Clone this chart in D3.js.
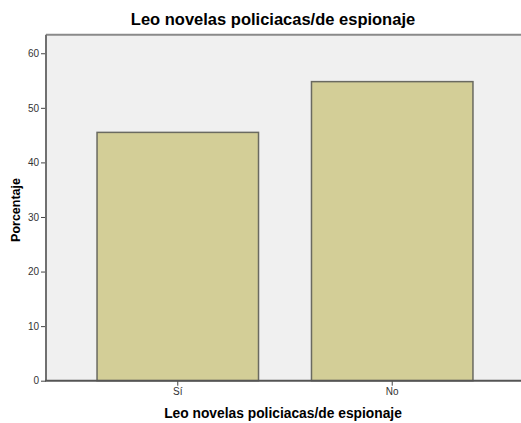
<!DOCTYPE html>
<html lang="es">
<head>
<meta charset="UTF-8">
<title>Leo novelas policiacas/de espionaje</title>
<script src="https://d3js.org/d3.v7.min.js"></script>
<style>
    body{ margin:0; background:#fff; font-family:"Liberation Sans", Arial, sans-serif; }
    svg{ display:block; }
</style>
</head>
<body>
<div id="chart"></div>
<script>
    // data
    var categories = ["Sí", "No"];
    var percentages = [45.5, 54.8];
    var yTicks = [0, 10, 20, 30, 40, 50, 60];

    var width = 521, height = 423;
    var plot = {left:46, right:524, top:34.7, bottom:380.7};

    var svg = d3.select("#chart").append("svg")
        .attr("width", width)
        .attr("height", height);

    var x = d3.scaleBand()
        .domain(categories)
        .range([plot.left, plot.right])
        .paddingInner(0.247)
        .paddingOuter(0.238);

    var y = d3.scaleLinear()
        .domain([0, 63.4])
        .range([plot.bottom, plot.top]);

    // plot background
    svg.append("rect")
        .attr("x", plot.left)
        .attr("y", plot.top)
        .attr("width", plot.right - plot.left)
        .attr("height", plot.bottom - plot.top)
        .attr("fill", "#f0f0f0");

    // top frame line
    svg.append("line")
        .attr("x1", plot.left).attr("x2", plot.right)
        .attr("y1", plot.top).attr("y2", plot.top)
        .attr("stroke", "#8a8a8a")
        .attr("stroke-width", 2);

    // bars
    svg.selectAll("rect.bar")
        .data(categories)
        .join("rect")
        .attr("class", "bar")
        .attr("x", function(d){ return x(d); })
        .attr("y", function(d, i){ return y(percentages[i]); })
        .attr("width", x.bandwidth())
        .attr("height", function(d, i){ return y(0) - y(percentages[i]); })
        .attr("fill", "#d3ce97")
        .attr("stroke", "#6a6a60")
        .attr("stroke-width", 1.5);

    // y axis
    var yAxis = svg.append("g")
        .attr("transform", "translate(" + plot.left + ",0)")
        .call(d3.axisLeft(y).tickValues(yTicks).tickSize(5).tickPadding(2));
    yAxis.select(".domain").remove();
    yAxis.append("line")
        .attr("x1", 0).attr("x2", 0)
        .attr("y1", plot.top).attr("y2", plot.bottom)
        .attr("stroke", "#707070")
        .attr("stroke-width", 2);
    yAxis.selectAll(".tick line").attr("stroke", "#444");
    yAxis.selectAll(".tick text")
        .attr("fill", "#333")
        .style("font-size", "10px")
        .style("font-family", "Liberation Sans, Arial, sans-serif");

    // x axis
    var xAxis = svg.append("g")
        .attr("transform", "translate(0," + plot.bottom + ")")
        .call(d3.axisBottom(x).tickSize(5).tickPadding(2));
    xAxis.select(".domain").remove();
    xAxis.append("line")
        .attr("x1", plot.left - 1).attr("x2", plot.right)
        .attr("y1", 0).attr("y2", 0)
        .attr("stroke", "#555")
        .attr("stroke-width", 2);
    xAxis.selectAll(".tick line").attr("stroke", "#444");
    xAxis.selectAll(".tick text")
        .attr("fill", "#333")
        .style("font-size", "10px")
        .style("font-family", "Liberation Sans, Arial, sans-serif");

    // title
    svg.append("text")
        .attr("x", 273)
        .attr("y", 25)
        .attr("text-anchor", "middle")
        .style("font-size", "16.5px")
        .style("font-weight", "bold")
        .text("Leo novelas policiacas/de espionaje");

    // x title
    svg.append("text")
        .attr("x", 283)
        .attr("y", 418)
        .attr("text-anchor", "middle")
        .style("font-size", "13.8px")
        .style("font-weight", "bold")
        .text("Leo novelas policiacas/de espionaje");

    // y title
    svg.append("text")
        .attr("transform", "translate(20,210) rotate(-90)")
        .attr("text-anchor", "middle")
        .style("font-size", "12.5px")
        .style("font-weight", "bold")
        .text("Porcentaje");
</script>
</body>
</html>
